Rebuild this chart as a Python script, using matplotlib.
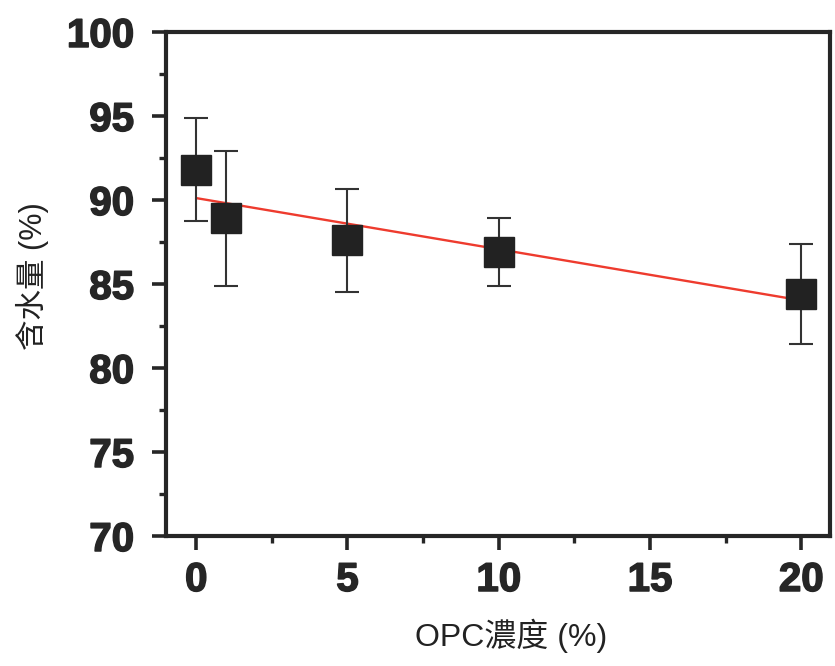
import numpy as np
import matplotlib
matplotlib.use("Agg")
import matplotlib.pyplot as plt
import matplotlib.patheffects as pe
from matplotlib.ticker import MultipleLocator

# OPC concentration (%) and moisture content (%) with standard deviations
opc = [0, 1, 5, 10, 20]
moisture = [91.8, 88.9, 87.6, 86.9, 84.4]
moisture_err = [3.05, 4.0, 3.05, 2.0, 3.0]

x_ticks = [0, 5, 10, 15, 20]
y_ticks = [70, 75, 80, 85, 90, 95, 100]

plt.rcParams['font.family'] = ['Liberation Sans', 'Noto Sans CJK TC']

fig = plt.figure(figsize=(8.35, 6.66), dpi=100)
ax = fig.add_axes([0.1988, 0.1952, 0.7952, 0.7568])

# linear fit through the measurements
slope, intercept = np.polyfit(opc, moisture, 1)
fx = np.array([min(opc), max(opc)])
ax.plot(fx, slope * fx + intercept, color='#ee3b2e', lw=1.7, zorder=2)

ax.errorbar(opc, moisture, yerr=moisture_err, fmt='s', color='#222222',
            ecolor='#333333', elinewidth=1.5, capsize=8.5, capthick=1.5,
            markersize=21, markeredgecolor='#222222', zorder=3)

ax.set_xlim(-1.0, 20.95)
ax.set_ylim(70, 100)
ax.set_xticks(x_ticks)
ax.set_yticks(y_ticks)
ax.xaxis.set_minor_locator(MultipleLocator(2.5))
ax.yaxis.set_minor_locator(MultipleLocator(2.5))

for s in ax.spines.values():
    s.set_linewidth(3.0)
    s.set_color('#262626')

ax.tick_params(which='major', direction='out', length=10, width=2.6,
               color='#262626', top=False, right=False, pad=8)
ax.tick_params(axis='y', which='major', pad=13)
ax.tick_params(which='minor', direction='out', length=5, width=2.4,
               color='#262626', top=False, right=False)
bold = [pe.withStroke(linewidth=1.1, foreground='#262626')]
for lab in ax.get_xticklabels() + ax.get_yticklabels():
    lab.set_fontsize(29)
    lab.set_fontweight('bold')
    lab.set_color('#262626')
    lab.set_path_effects(bold)

fig.text(0.612, 0.045, 'OPC濃度 (%)', fontsize=23, ha='center', va='center',
         color='#222222')
fig.text(0.039, 0.586, '含水量 (%)', fontsize=22, ha='center', va='center',
         rotation=90, color='#222222')

fig.savefig('out.png', dpi=100)
